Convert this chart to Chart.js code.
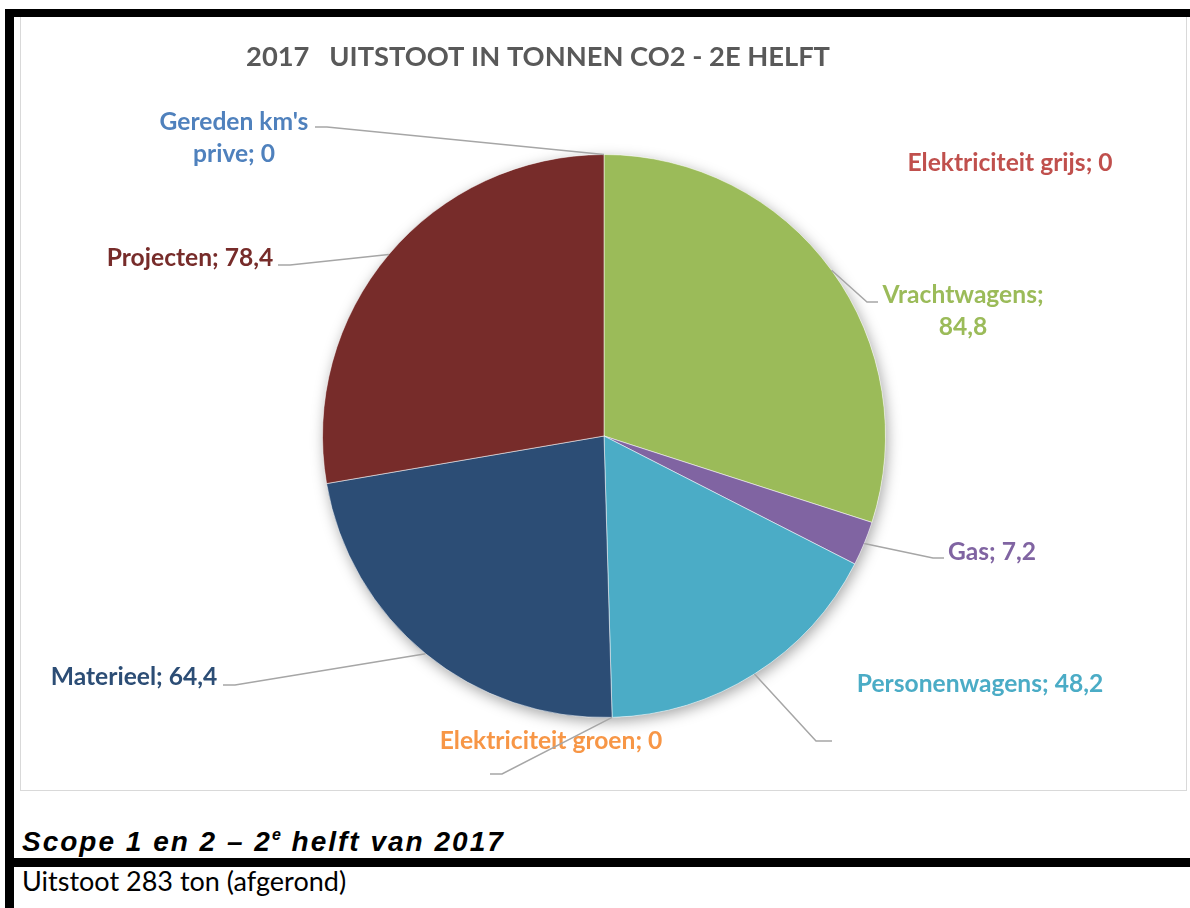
<!DOCTYPE html>
<html>
<head>
<meta charset="utf-8">
<script src="https://cdn.jsdelivr.net/npm/chart.js@4/dist/chart.umd.min.js"></script>
<style>
  html, body { margin: 0; padding: 0; background: #fff; }
  body { width: 1190px; height: 908px; position: relative; overflow: hidden; }
  .bar { position: absolute; background: #000; }
  #box { position: absolute; left: 20px; top: 17px; width: 1167px; height: 774px;
         border: 1px solid #d9d9d9; border-top: none; box-sizing: border-box; }
  #wrap { position: absolute; left: 0; top: 0; width: 1190px; height: 908px; }
  #scope { position: absolute; left: 22px; top: 826px; margin: 0; letter-spacing: 2px;
           font: italic bold 28px "Liberation Sans", Arial, sans-serif; color: #000; }
  #scope sup { font-size: 16px; vertical-align: 11px; letter-spacing: 1px; }
  #note { position: absolute; left: 22px; top: 864px; margin: 0;
          font: 27px Lato, "Noto Sans", sans-serif; color: #000; }
</style>
</head>
<body>
<div id="box"></div>
<div class="bar" style="left:5px;top:9px;width:1185px;height:8px"></div>
<div class="bar" style="left:5px;top:9px;width:9px;height:899px"></div>
<div class="bar" style="left:5px;top:858px;width:1185px;height:9px"></div>
<p id="scope">Scope 1 en 2 – 2<sup>e</sup> helft van 2017</p>
<p id="note">Uitstoot 283 ton (afgerond)</p>
<div id="wrap"><canvas id="pie"></canvas></div>

<script>
// 2017 uitstoot in tonnen CO2, 2e helft
const chartTitle = '2017   UITSTOOT IN TONNEN CO2 - 2E HELFT';
const categories = ["Gereden km's prive", 'Elektriciteit grijs', 'Vrachtwagens', 'Gas',
                    'Personenwagens', 'Elektriciteit groen', 'Materieel', 'Projecten'];
const values     = [0, 0, 84.8, 7.2, 48.2, 0, 64.4, 78.4];
const colors     = ['#4F81BD', '#C0504D', '#9BBB59', '#8064A2',
                    '#4BACC6', '#F79646', '#2C4D75', '#772C2A'];

// where Excel put each data label (center) and its leader line end
const labelLayout = [
  { x: 234,  y: 138, breakAfter: 2, end: [315, 127], elbow: 12 },
  { x: 1010, y: 163 },
  { x: 963,  y: 311, breakAfter: 1, end: [878, 302], elbow: -11 },
  { x: 992,  y: 552, end: [944, 558], elbow: -11 },
  { x: 980,  y: 684, end: [832, 741], elbow: -16 },
  { x: 551,  y: 741, end: [490, 774], elbow: 12 },
  { x: 134,  y: 677, end: [223, 685], elbow: 12 },
  { x: 190,  y: 258, end: [278, 265], elbow: 12 }
];

const fmt = v => String(v).replace('.', ',');

const pieExtras = {
  id: 'pieExtras',
  beforeDatasetsDraw(chart) {
    // soft shadow under the pie
    const arc = chart.getDatasetMeta(0).data[0];
    const ctx = chart.ctx;
    ctx.save();
    ctx.shadowColor = 'rgba(0,0,0,0.35)';
    ctx.shadowBlur = 14;
    ctx.shadowOffsetX = 2;
    ctx.shadowOffsetY = 4;
    ctx.fillStyle = '#fff';
    ctx.beginPath();
    ctx.arc(arc.x, arc.y, arc.outerRadius, 0, Math.PI * 2);
    ctx.fill();
    ctx.restore();
  },
  afterDatasetsDraw(chart) {
    const ctx = chart.ctx;
    ctx.save();
    ctx.textAlign = 'center';
    ctx.textBaseline = 'middle';

    ctx.fillStyle = '#595959';
    ctx.font = 'bold 27.3px Lato, sans-serif';
    ctx.fillText(chartTitle, 538, 57);

    ctx.font = 'bold 24.6px Lato, sans-serif';
    chart.getDatasetMeta(0).data.forEach((arc, i) => {
      const lay = labelLayout[i];
      const words = `${categories[i]}; ${fmt(values[i])}`.split(' ');
      const lines = lay.breakAfter
        ? [words.slice(0, lay.breakAfter).join(' '), words.slice(lay.breakAfter).join(' ')]
        : [words.join(' ')];
      const lh = 32;
      ctx.fillStyle = colors[i];
      lines.forEach((t, k) => ctx.fillText(t, lay.x, lay.y + (k - (lines.length - 1) / 2) * lh));

      if (lay.end) {
        const mid = (arc.startAngle + arc.endAngle) / 2;
        const ax = arc.x + Math.cos(mid) * arc.outerRadius;
        const ay = arc.y + Math.sin(mid) * arc.outerRadius;
        ctx.strokeStyle = '#A6A6A6';
        ctx.lineWidth = 1.5;
        ctx.beginPath();
        ctx.moveTo(ax, ay);
        ctx.lineTo(lay.end[0] + lay.elbow, lay.end[1]);
        ctx.lineTo(lay.end[0], lay.end[1]);
        ctx.stroke();
      }
    });
    ctx.restore();
  }
};

new Chart(document.getElementById('pie'), {
  type: 'pie',
  data: {
    labels: categories,
    datasets: [{
      data: values,
      backgroundColor: colors,
      borderColor: 'rgba(255,255,255,0.5)',
      borderWidth: 1
    }]
  },
  options: {
    responsive: true,
    maintainAspectRatio: false,
    animation: false,
    rotation: 0,
    layout: { padding: { top: 154, bottom: 190, left: 322, right: 304 } },
    plugins: {
      legend: { display: false },
      tooltip: { enabled: false },
      title: { display: false }
    }
  },
  plugins: [pieExtras]
});
</script>
</body>
</html>
